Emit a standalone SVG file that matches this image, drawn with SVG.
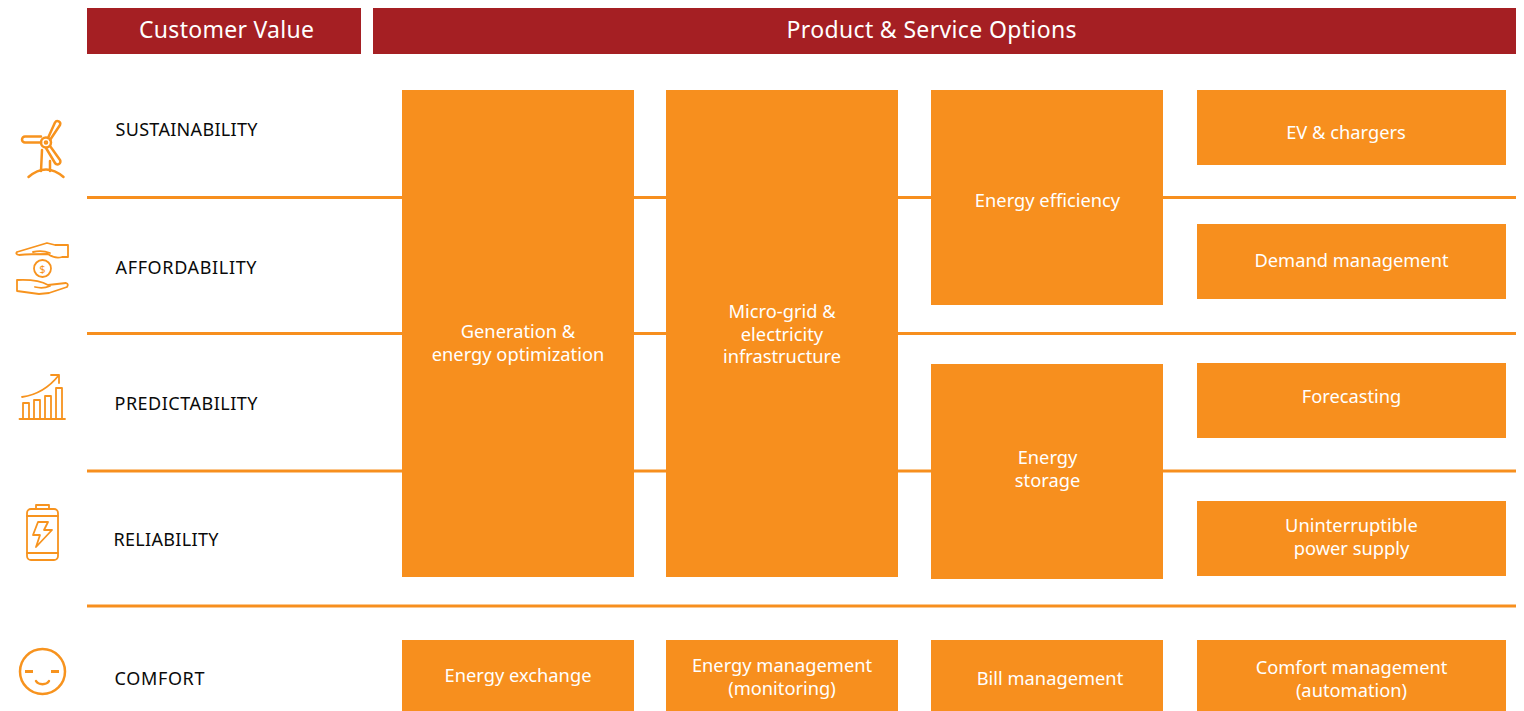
<svg xmlns="http://www.w3.org/2000/svg" width="1524" height="711" viewBox="0 0 1524 711">
<style>
text{font-family:"Noto Sans","Open Sans","Liberation Sans",sans-serif}
.h{fill:#a51f23}
.ht{fill:#fff;font-size:23px;text-anchor:middle}
.b{fill:#f78f1e}
.t{fill:#fff;font-size:18.300px;text-anchor:middle}
.l{fill:#0a0a0a;font-size:18px}
.r{stroke:#f78f1e;stroke-width:3;fill:none}
.i{stroke:#f7931e;stroke-width:2.500;fill:none;stroke-linecap:round;stroke-linejoin:round}
.i1{stroke:#f7931e;stroke-width:1.800;fill:none;stroke-linecap:round;stroke-linejoin:round}
</style>
<rect width="1524" height="711" fill="#fff"/>
<g id="connectors">
<line class="r" x1="87" y1="197.500" x2="1516" y2="197.500"/>
<line class="r" x1="87" y1="333.500" x2="1516" y2="333.500"/>
<line class="r" x1="87" y1="471" x2="1516" y2="471"/>
<line class="r" x1="87" y1="606" x2="1516" y2="606"/>
</g>
<g id="header-customer-value"><rect class="h" x="87" y="8" width="274" height="46"/><text class="ht" x="226.500" y="38" textLength="175">Customer Value</text></g>
<g id="header-options"><rect class="h" x="373" y="8" width="1143" height="46"/><text class="ht" x="931.500" y="38" textLength="290">Product &amp; Service Options</text></g>

<g id="sustainability">
<g class="i"><circle cx="46" cy="142.500" r="5"/><circle cx="46" cy="142.500" r="1"/>
<path d="M41 142.500H25a2.800 2.800 0 0 1 0-6H41"/>
<path d="M48 138L55 122.500a2.800 2.800 0 0 1 5 2.500L50 140"/>
<path d="M50 146L60 160a2.800 2.800 0 0 1-5 3L46 148"/>
<path d="M42 150L41 171M50 161V171"/><path d="M28.500 177Q46 162 63.500 177"/></g>
<text class="l" x="115.500" y="136" textLength="142">SUSTAINABILITY</text></g>

<g id="affordability">
<g class="i1"><path d="M17 252L47 243L55 245L68 245V257H62Q55 259 48 254Q30 254 19 255Q15 254 17 252Z"/>
<path d="M33 252Q42 250 50 253"/><circle cx="42.500" cy="268.500" r="8.500"/>
<path d="M17 280V291L39 294L49 293L67 287Q69 284 66 283L48 285Q38 279 17 280Z"/><path d="M35 287Q43 289 50 286"/></g>
<text x="42.500" y="272.500" font-size="11" text-anchor="middle" fill="#f7931e">$</text>
<text class="l" x="115.500" y="273.500" textLength="141">AFFORDABILITY</text></g>

<g id="predictability">
<g class="i1"><path d="M19.500 419H65"/><rect x="23" y="403" width="6" height="16"/><rect x="34" y="400" width="6" height="19"/><rect x="45" y="396" width="6" height="23"/><rect x="56" y="388" width="6" height="31"/>
<path d="M22 397Q44 394 59 375M51 375H59V383"/></g>
<text class="l" x="114.500" y="410" textLength="143">PREDICTABILITY</text></g>

<g id="reliability">
<g class="i1"><rect x="27" y="509" width="31" height="51" rx="4"/><rect x="36" y="505" width="13" height="4"/><path d="M27 516H58M27 553H58"/>
<path d="M38 522H48L44 530H52L36 547L40 535H33Z"/></g>
<text class="l" x="113.500" y="545.500" textLength="105">RELIABILITY</text></g>

<g id="comfort">
<circle cx="42.500" cy="671.500" r="22.500" fill="none" stroke="#f7931e" stroke-width="2.500"/>
<path d="M25 671.500h8M51 671.500h8" stroke="#f7931e" stroke-width="3" fill="none"/>
<path d="M36 681a7 5 0 0 0 13 0" class="i"/>
<text class="l" x="114.500" y="684.500" textLength="90">COMFORT</text></g>

<g id="generation"><rect class="b" x="402" y="90" width="232" height="487"/><text class="t" x="518" y="338">Generation &amp;</text><text class="t" x="518" y="361">energy optimization</text></g>
<g id="microgrid"><rect class="b" x="666" y="90" width="232" height="487"/><text class="t" x="782" y="318">Micro-grid &amp;</text><text class="t" x="782" y="341">electricity</text><text class="t" x="782" y="363">infrastructure</text></g>
<g id="efficiency"><rect class="b" x="931" y="90" width="232" height="215"/><text class="t" x="1047.500" y="207">Energy efficiency</text></g>
<g id="storage"><rect class="b" x="931" y="364" width="232" height="215"/><text class="t" x="1047.500" y="464">Energy</text><text class="t" x="1047.500" y="487">storage</text></g>
<g id="ev"><rect class="b" x="1197" y="90" width="309" height="75"/><text class="t" x="1346" y="139">EV &amp; chargers</text></g>
<g id="demand"><rect class="b" x="1197" y="224" width="309" height="75"/><text class="t" x="1351.500" y="267">Demand management</text></g>
<g id="forecasting"><rect class="b" x="1197" y="363" width="309" height="75"/><text class="t" x="1351.500" y="403">Forecasting</text></g>
<g id="ups"><rect class="b" x="1197" y="501" width="309" height="75"/><text class="t" x="1351.500" y="532">Uninterruptible</text><text class="t" x="1351.500" y="555">power supply</text></g>
<g id="exchange"><rect class="b" x="402" y="640" width="232" height="71"/><text class="t" x="518" y="682">Energy exchange</text></g>
<g id="monitoring"><rect class="b" x="666" y="640" width="232" height="71"/><text class="t" x="782" y="672">Energy management</text><text class="t" x="782" y="695">(monitoring)</text></g>
<g id="bill"><rect class="b" x="931" y="640" width="232" height="71"/><text class="t" x="1050" y="685">Bill management</text></g>
<g id="automation"><rect class="b" x="1197" y="640" width="309" height="71"/><text class="t" x="1351.500" y="674">Comfort management</text><text class="t" x="1351.500" y="697">(automation)</text></g>
</svg>
